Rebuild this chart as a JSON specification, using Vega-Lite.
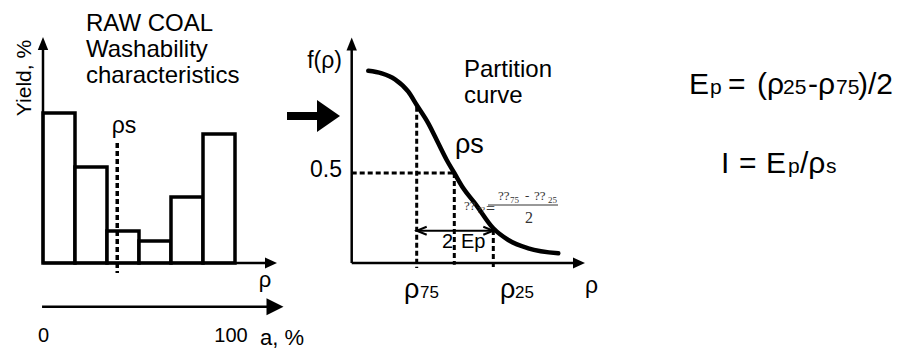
{
  "$schema": "https://vega.github.io/schema/vega-lite/v6.json",
  "padding": 0,
  "spacing": 0,
  "bounds": "flush",
  "config": {"view": {"stroke": null}, "concat": {"spacing": 0}},
  "datasets": {
    "barsA": [{"x":0,"x2":1,"y":30},{"x":1,"x2":2,"y":19.2},{"x":2,"x2":3,"y":6.4},{"x":3,"x2":4,"y":4.4},{"x":4,"x2":5,"y":13.2},{"x":5,"x2":6,"y":25.8}],
    "axesA": [{"x":0,"x2":0,"y":0,"y2":43},{"x":0,"x2":7.05,"y":0,"y2":0},{"x":-0.03,"x2":7.1,"y":-8.75,"y2":-8.75}],
    "cutA": [{"x":2.32,"x2":2.32,"y":24,"y2":-2}],
    "upA": [{"x":0,"y":43.9}],
    "rightA": [{"x":7.125,"y":0}],
    "rightBigA": [{"x":7.25,"y":-8.75}],
    "shaftA": [{"x":7.625,"x2":8.65625,"y":29.4,"y2":29.4}],
    "headA": [{"x":8.921875,"y":29.4}],
    "titleA": [{"x":1.34375,"y":46.4,"t":"RAW COAL"},{"x":1.34375,"y":41.2,"t":"Washability"},{"x":1.34375,"y":36.1,"t":"characteristics"}],
    "yieldA": [{"x":-0.375,"y":37,"t":"Yield, %"}],
    "rhoSA": [{"x":2.53,"y":26,"t":"ρs"}],
    "rhoA": [{"x":6.9375,"y":-4.8,"t":"ρ"}],
    "ticksA": [{"x":0.02,"y":-15.8,"t":"0"},{"x":5.875,"y":-15.8,"t":"100"}],
    "ashA": [{"x":6.78125,"y":-16.4,"t":"a, %"}],
    "curveB": [
      {"x":1.27363,"y":1.0683},{"x":1.30862,"y":1.0539},{"x":1.34334,"y":1.0206},{"x":1.37807,"y":0.9517},
      {"x":1.40,"y":0.8778},{"x":1.43029,"y":0.7761},{"x":1.4564,"y":0.665},{"x":1.47833,"y":0.5722},
      {"x":1.49817,"y":0.5},{"x":1.52167,"y":0.415},{"x":1.55222,"y":0.3317},{"x":1.60,"y":0.1928},
      {"x":1.63916,"y":0.1278},{"x":1.69138,"y":0.0817},{"x":1.76971,"y":0.0539}
    ],
    "axesB": [{"x":1.23029,"x2":1.23029,"y":0,"y2":1.2},{"x":1.23029,"x2":1.815,"y":0,"y2":0}],
    "upB": [{"x":1.23029,"y":1.21667}],
    "rightB": [{"x":1.82376,"y":0}],
    "dashB": [
      {"x":1.40,"x2":1.40,"y":0.86833,"y2":-0.02778},
      {"x":1.49817,"x2":1.49817,"y":0.5,"y2":-0.01},
      {"x":1.60,"x2":1.60,"y":0.18333,"y2":-0.02778},
      {"x":1.23029,"x2":1.49817,"y":0.5,"y2":0.5}
    ],
    "spanB": [{"x":1.40,"x2":1.60,"y":0.17944,"y2":0.17944}],
    "chevLeftB": [{"x":1.41305,"y":0.17944}],
    "chevRightB": [{"x":1.58695,"y":0.17944}],
    "fracB": [{"x":1.58616,"x2":1.76893,"y":0.3222,"y2":0.3222}],
    "rightTextB": [{"x":1.20496,"y":1.08333,"t":"f(ρ)"}],
    "halfB": [{"x":1.20496,"y":0.47778,"t":"0.5"}],
    "titleB": [{"x":1.5235,"y":1.035,"t":"Partition"},{"x":1.5235,"y":0.8872,"t":"curve"}],
    "rhoBigB": [{"x":1.5,"y":0.61111,"t":"ρs"},{"x":1.36684,"y":-0.19444,"t":"ρ"},{"x":1.61749,"y":-0.19444,"t":"ρ"}],
    "rhoSubB": [{"x":1.40862,"y":-0.19444,"t":"75"},{"x":1.65666,"y":-0.19444,"t":"25"}],
    "rhoAxisB": [{"x":1.83943,"y":-0.16667,"t":"ρ"}],
    "epB": [{"x":1.46606,"y":0.08167,"t":"2"},{"x":1.51567,"y":0.08167,"t":"Ep"}],
    "mojiMid": [{"x":1.52350,"y":0.29444,"t":"??"},{"x":1.61227,"y":0.35,"t":"??"},{"x":1.68277,"y":0.35,"t":"-"},{"x":1.70627,"y":0.35,"t":"??"}],
    "mojiSmall": [{"x":1.55744,"y":0.27778,"t":"??"},{"x":1.64360,"y":0.33333,"t":"75"},{"x":1.74282,"y":0.33333,"t":"25"}],
    "mojiBig": [{"x":1.58094,"y":0.27056,"t":"="},{"x":1.68277,"y":0.22222,"t":"2"}],
    "formulaBig": [
      {"x":25.43,"y":73.2857,"t":"E"},{"x":38.832,"y":73.2857,"t":"="},{"x":48.797,"y":73.2857,"t":"(ρ"},
      {"x":66.323,"y":73.2857,"t":"-ρ"},{"x":83.505,"y":73.2857,"t":")/2"},
      {"x":36.426,"y":50.4857,"t":"I"},{"x":42.612,"y":50.4857,"t":"="},{"x":51.890,"y":50.4857,"t":"E"},
      {"x":63.574,"y":50.4857,"t":"/ρ"}
    ],
    "formulaSub": [
      {"x":32.646,"y":73.2857,"t":"p"},{"x":57.732,"y":73.2857,"t":"25"},{"x":75.945,"y":73.2857,"t":"75"},
      {"x":59.450,"y":50.4857,"t":"p"},{"x":72.509,"y":50.4857,"t":"s"}
    ]
  },
  "hconcat": [
    {
      "width": 305,
      "height": 350,
      "encoding": {
        "x": {"field": "x", "type": "quantitative", "scale": {"domain": [-1.34375, 8.1875], "nice": false, "zero": false}, "axis": null},
        "y": {"field": "y", "type": "quantitative", "scale": {"domain": [-17.4, 52.6], "nice": false, "zero": false}, "axis": null}
      },
      "layer": [
        {"data": {"name": "barsA"}, "mark": {"type": "rect", "fill": "white", "stroke": "black", "strokeWidth": 3.5}, "encoding": {"x2": {"field": "x2"}, "y2": {"datum": 0}}},
        {"data": {"name": "axesA"}, "mark": {"type": "rule", "color": "black", "strokeWidth": 2.5}, "encoding": {"x2": {"field": "x2"}, "y2": {"field": "y2"}}},
        {"data": {"name": "cutA"}, "mark": {"type": "rule", "color": "black", "strokeWidth": 3.5, "strokeDash": [5, 3]}, "encoding": {"x2": {"field": "x2"}, "y2": {"field": "y2"}}},
        {"data": {"name": "upA"}, "mark": {"type": "point", "shape": "M0,-1L-0.8,1L0.8,1Z", "size": 169, "filled": true, "color": "black", "opacity": 1}},
        {"data": {"name": "rightA"}, "mark": {"type": "point", "shape": "M1,0L-1,-0.9L-1,0.9Z", "size": 144, "filled": true, "color": "black", "opacity": 1}},
        {"data": {"name": "rightBigA"}, "mark": {"type": "point", "shape": "M1,0L-1,-1L-1,1Z", "size": 289, "filled": true, "color": "black", "opacity": 1}},
        {"data": {"name": "shaftA"}, "mark": {"type": "rule", "color": "black", "strokeWidth": 8}, "encoding": {"x2": {"field": "x2"}, "y2": {"field": "y2"}}},
        {"data": {"name": "headA"}, "mark": {"type": "point", "shape": "M0.72,0L-0.72,-1L-0.72,1Z", "size": 1024, "filled": true, "color": "black", "opacity": 1}},
        {"data": {"name": "titleA"}, "mark": {"type": "text", "font": "Liberation Sans", "fontSize": 24, "align": "left", "baseline": "alphabetic", "color": "black"}, "encoding": {"text": {"field": "t"}}},
        {"data": {"name": "yieldA"}, "mark": {"type": "text", "font": "Liberation Sans", "fontSize": 21, "angle": 270, "align": "center", "baseline": "alphabetic", "color": "black"}, "encoding": {"text": {"field": "t"}}},
        {"data": {"name": "rhoSA"}, "mark": {"type": "text", "font": "Liberation Sans", "fontSize": 23, "align": "center", "baseline": "alphabetic", "color": "black"}, "encoding": {"text": {"field": "t"}}},
        {"data": {"name": "rhoA"}, "mark": {"type": "text", "font": "Liberation Sans", "fontSize": 22, "align": "center", "baseline": "alphabetic", "color": "black"}, "encoding": {"text": {"field": "t"}}},
        {"data": {"name": "ticksA"}, "mark": {"type": "text", "font": "Liberation Sans", "fontSize": 20, "align": "center", "baseline": "alphabetic", "color": "black"}, "encoding": {"text": {"field": "t"}}},
        {"data": {"name": "ashA"}, "mark": {"type": "text", "font": "Liberation Sans", "fontSize": 22, "align": "left", "baseline": "alphabetic", "color": "black"}, "encoding": {"text": {"field": "t"}}}
      ]
    },
    {
      "width": 310,
      "height": 350,
      "encoding": {
        "x": {"field": "x", "type": "quantitative", "scale": {"domain": [1.108355, 1.91775], "nice": false, "zero": false}, "axis": null},
        "y": {"field": "y", "type": "quantitative", "scale": {"domain": [-0.48333, 1.46111], "nice": false, "zero": false}, "axis": null}
      },
      "layer": [
        {"data": {"name": "axesB"}, "mark": {"type": "rule", "color": "black", "strokeWidth": 2.5}, "encoding": {"x2": {"field": "x2"}, "y2": {"field": "y2"}}},
        {"data": {"name": "upB"}, "mark": {"type": "point", "shape": "M0,-1L-0.8,1L0.8,1Z", "size": 169, "filled": true, "color": "black", "opacity": 1}},
        {"data": {"name": "rightB"}, "mark": {"type": "point", "shape": "M1,0L-1,-0.9L-1,0.9Z", "size": 144, "filled": true, "color": "black", "opacity": 1}},
        {"data": {"name": "dashB"}, "mark": {"type": "rule", "color": "black", "strokeWidth": 3, "strokeDash": [5, 3]}, "encoding": {"x2": {"field": "x2"}, "y2": {"field": "y2"}}},
        {"data": {"name": "spanB"}, "mark": {"type": "rule", "color": "black", "strokeWidth": 2}, "encoding": {"x2": {"field": "x2"}, "y2": {"field": "y2"}}},
        {"data": {"name": "chevLeftB"}, "mark": {"type": "point", "shape": "M1,-0.8L-1,0L1,0.8", "size": 100, "filled": false, "color": "black", "strokeWidth": 2, "opacity": 1}},
        {"data": {"name": "chevRightB"}, "mark": {"type": "point", "shape": "M-1,-0.8L1,0L-1,0.8", "size": 100, "filled": false, "color": "black", "strokeWidth": 2, "opacity": 1}},
        {"data": {"name": "curveB"}, "mark": {"type": "line", "interpolate": "monotone", "color": "black", "strokeWidth": 4.5, "strokeCap": "round"}, "encoding": {}},
        {"data": {"name": "fracB"}, "mark": {"type": "rule", "color": "#333333", "strokeWidth": 1}, "encoding": {"x2": {"field": "x2"}, "y2": {"field": "y2"}}},
        {"data": {"name": "rightTextB"}, "mark": {"type": "text", "font": "Liberation Sans", "fontSize": 23, "align": "right", "baseline": "alphabetic", "color": "black"}, "encoding": {"text": {"field": "t"}}},
        {"data": {"name": "halfB"}, "mark": {"type": "text", "font": "Liberation Sans", "fontSize": 23, "align": "right", "baseline": "alphabetic", "color": "black"}, "encoding": {"text": {"field": "t"}}},
        {"data": {"name": "titleB"}, "mark": {"type": "text", "font": "Liberation Sans", "fontSize": 24, "align": "left", "baseline": "alphabetic", "color": "black"}, "encoding": {"text": {"field": "t"}}},
        {"data": {"name": "rhoBigB"}, "mark": {"type": "text", "font": "Liberation Sans", "fontSize": 27, "align": "left", "baseline": "alphabetic", "color": "black"}, "encoding": {"text": {"field": "t"}}},
        {"data": {"name": "rhoSubB"}, "mark": {"type": "text", "font": "Liberation Sans", "fontSize": 17, "align": "left", "baseline": "alphabetic", "color": "black"}, "encoding": {"text": {"field": "t"}}},
        {"data": {"name": "rhoAxisB"}, "mark": {"type": "text", "font": "Liberation Sans", "fontSize": 23, "align": "left", "baseline": "alphabetic", "color": "black"}, "encoding": {"text": {"field": "t"}}},
        {"data": {"name": "epB"}, "mark": {"type": "text", "font": "Liberation Sans", "fontSize": 20, "align": "left", "baseline": "alphabetic", "color": "black"}, "encoding": {"text": {"field": "t"}}},
        {"data": {"name": "mojiMid"}, "mark": {"type": "text", "font": "Liberation Serif", "fontSize": 13, "align": "left", "baseline": "alphabetic", "color": "#333333"}, "encoding": {"text": {"field": "t"}}},
        {"data": {"name": "mojiSmall"}, "mark": {"type": "text", "font": "Liberation Serif", "fontSize": 9, "align": "left", "baseline": "alphabetic", "color": "#333333"}, "encoding": {"text": {"field": "t"}}},
        {"data": {"name": "mojiBig"}, "mark": {"type": "text", "font": "Liberation Serif", "fontSize": 16, "align": "left", "baseline": "alphabetic", "color": "#333333"}, "encoding": {"text": {"field": "t"}}}
      ]
    },
    {
      "width": 291,
      "height": 350,
      "encoding": {
        "x": {"field": "x", "type": "quantitative", "scale": {"domain": [0, 100], "nice": false, "zero": false}, "axis": null},
        "y": {"field": "y", "type": "quantitative", "scale": {"domain": [0, 100], "nice": false, "zero": false}, "axis": null}
      },
      "layer": [
        {"data": {"name": "formulaBig"}, "mark": {"type": "text", "font": "Liberation Sans", "fontSize": 30, "align": "left", "baseline": "alphabetic", "color": "black"}, "encoding": {"text": {"field": "t"}}},
        {"data": {"name": "formulaSub"}, "mark": {"type": "text", "font": "Liberation Sans", "fontSize": 21, "align": "left", "baseline": "alphabetic", "color": "black"}, "encoding": {"text": {"field": "t"}}}
      ]
    }
  ]
}
